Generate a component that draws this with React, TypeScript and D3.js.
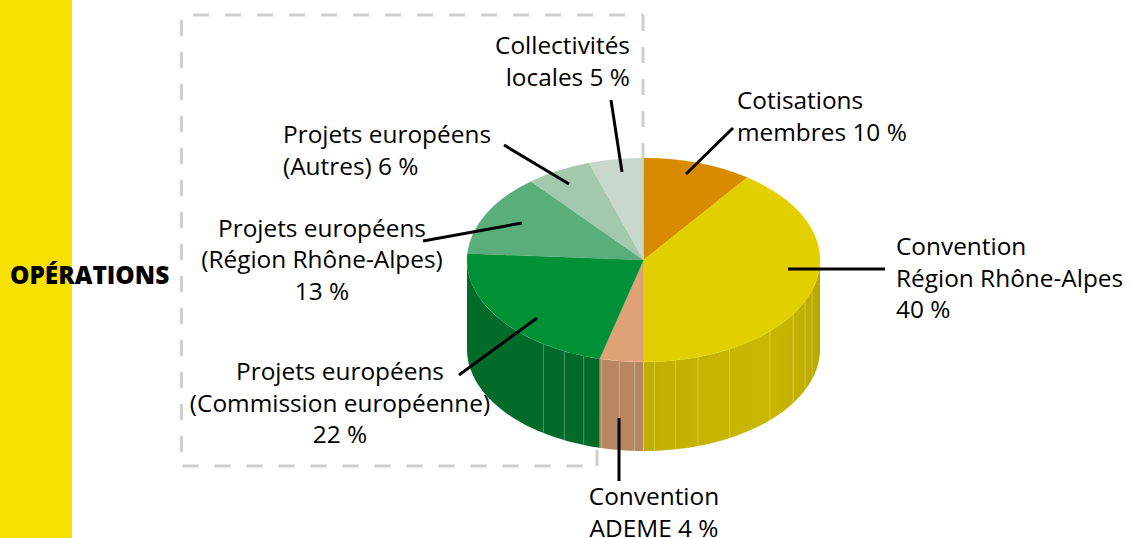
import { useMemo } from "react";
import * as d3 from "d3";

// Shares, clockwise from 12 o'clock
const sliceNames = [
  "Cotisations membres",
  "Convention Région Rhône-Alpes",
  "Convention ADEME",
  "Projets européens (Commission européenne)",
  "Projets européens (Région Rhône-Alpes)",
  "Projets européens (Autres)",
  "Collectivités locales",
];
const sliceValues = [10, 40, 4, 22, 13, 6, 5];
const topColors = ["#d98b00", "#e1cf00", "#dfa278", "#009036", "#5aae7b", "#a4c8ac", "#c9d8cc"];
const wallColors = ["#b07a00", "url(#yellow-wall)", "#b58660", "#026b2a", "#4a8f65", "#879f8c", "#a5b1a7"];

// Where the thin seams show on the wall, in percent around the pie
const seamPercents = [29.8, 31.6, 33.9, 37.3, 41.9, 45, 47.1, 49, 50, 50.8, 52.2, 53.8, 55.5, 57.4, 59.6];

const labels = [
  { lines: ["Collectivités", "locales 5 %"], x: 630, y: 54, anchor: "end" },
  { lines: ["Cotisations", "membres 10 %"], x: 737, y: 109, anchor: "start" },
  { lines: ["Projets européens", "(Autres) 6 %"], x: 283, y: 143, anchor: "start" },
  { lines: ["Projets européens", "(Région Rhône-Alpes)", "13 %"], x: 322, y: 236.5, anchor: "middle" },
  { lines: ["Convention", "Région Rhône-Alpes", "40 %"], x: 896, y: 255, anchor: "start" },
  { lines: ["Projets européens", "(Commission européenne)", "22 %"], x: 340, y: 380, anchor: "middle" },
  { lines: ["Convention", "ADEME 4 %"], x: 654, y: 505, anchor: "middle" },
];

const leaders = [
  [611, 100, 622, 172],
  [733, 128, 686, 174],
  [504, 145, 569, 184],
  [423, 241, 522, 223],
  [788, 269, 885, 269],
  [459, 375, 537, 318],
  [619, 418, 619, 481],
];

const width = 1131;
const height = 538;
const cx = 643.5;
const cy = 260;
const rx = 176.5;
const ry = 102;
const depth = 89;
const fontFamily = "'Open Sans', 'Noto Sans', sans-serif";
const fontSize = 24.4;
const lineHeight = 31.5;

export default function App() {
  const arcs = useMemo(() => d3.pie<number>().sort(null).startAngle(0).endAngle(Math.PI * 2)(sliceValues), []);
  const arc = d3.arc<d3.PieArcDatum<number>>().innerRadius(0).outerRadius(rx);

  // Angle 0 is at the top and goes clockwise, same as d3.pie
  const angle = d3.scaleLinear().domain([0, 100]).range([0, Math.PI * 2]);
  const px = (a: number) => cx + rx * Math.sin(a);
  const py = (a: number) => cy - ry * Math.cos(a);

  const wallPath = (a0: number, a1: number) => {
    const from = Math.max(a0, Math.PI / 2);
    const to = Math.min(a1, (Math.PI * 3) / 2);
    if (to <= from) return null;
    const steps = d3.range(0, 41).map((i) => from + ((to - from) * i) / 40);
    const edge = d3.line<number>().x(px).y(py);
    const lower = d3.line<number>().x(px).y((a) => py(a) + depth);
    return `${edge(steps)}L${lower(steps.slice().reverse())!.slice(1)}Z`;
  };

  const frame = { fill: "none", stroke: "#cfcfcf", strokeWidth: 3, strokeDasharray: "16 16" };

  return (
    <svg
      width={width}
      height={height}
      viewBox={`0 0 ${width} ${height}`}
      style={{ position: "absolute", left: 0, top: 0, background: "#fff" }}
      fontFamily={fontFamily}
    >
      <defs>
        <linearGradient id="yellow-wall" gradientUnits="userSpaceOnUse" x1={643} x2={820} y1={0} y2={0}>
          <stop offset="0" stopColor="#bfae00" />
          <stop offset="0.35" stopColor="#c6b400" />
          <stop offset="0.7" stopColor="#c9b800" />
          <stop offset="0.9" stopColor="#c2b000" />
          <stop offset="1" stopColor="#b8a700" />
        </linearGradient>
      </defs>

      <rect x={0} y={0} width={72} height={height} fill="#f6e100" />
      <text x={10} y={284} fontSize={24.4} fontWeight={800} fill="#000">
        OPÉRATIONS
      </text>

      <path d="M181.5 20V466" {...frame} />
      <path d="M193 15H643" {...frame} />
      <path d="M182.5 466H597" {...frame} />
      <path d="M643 15V260" {...frame} />
      <path d="M597 466V260" {...frame} />

      {arcs.map((d, i) => {
        const wall = wallPath(d.startAngle, d.endAngle);
        return wall && <path key={sliceNames[i]} d={wall} fill={wallColors[i]} />;
      })}
      {seamPercents.map((p) => {
        const a = angle(p);
        return (
          <line
            key={p}
            x1={px(a)}
            x2={px(a)}
            y1={py(a)}
            y2={py(a) + depth}
            stroke="#fff"
            strokeOpacity={0.3}
            strokeWidth={1}
          />
        );
      })}

      <g transform={`translate(${cx},${cy}) scale(1,${ry / rx})`}>
        {arcs.map((d, i) => (
          <path key={sliceNames[i]} d={arc(d)!} fill={topColors[i]} stroke={topColors[i]} strokeWidth={0.3} />
        ))}
      </g>

      {leaders.map(([x1, y1, x2, y2], i) => (
        <line key={i} x1={x1} y1={y1} x2={x2} y2={y2} stroke="#000" strokeWidth={3} />
      ))}

      {labels.map((l) => (
        <text key={l.lines[0] + l.x} x={l.x} y={l.y} textAnchor={l.anchor} fontSize={fontSize} fill="#000">
          {l.lines.map((t, i) => (
            <tspan key={t} x={l.x} dy={i === 0 ? 0 : lineHeight}>
              {t}
            </tspan>
          ))}
        </text>
      ))}
    </svg>
  );
}
